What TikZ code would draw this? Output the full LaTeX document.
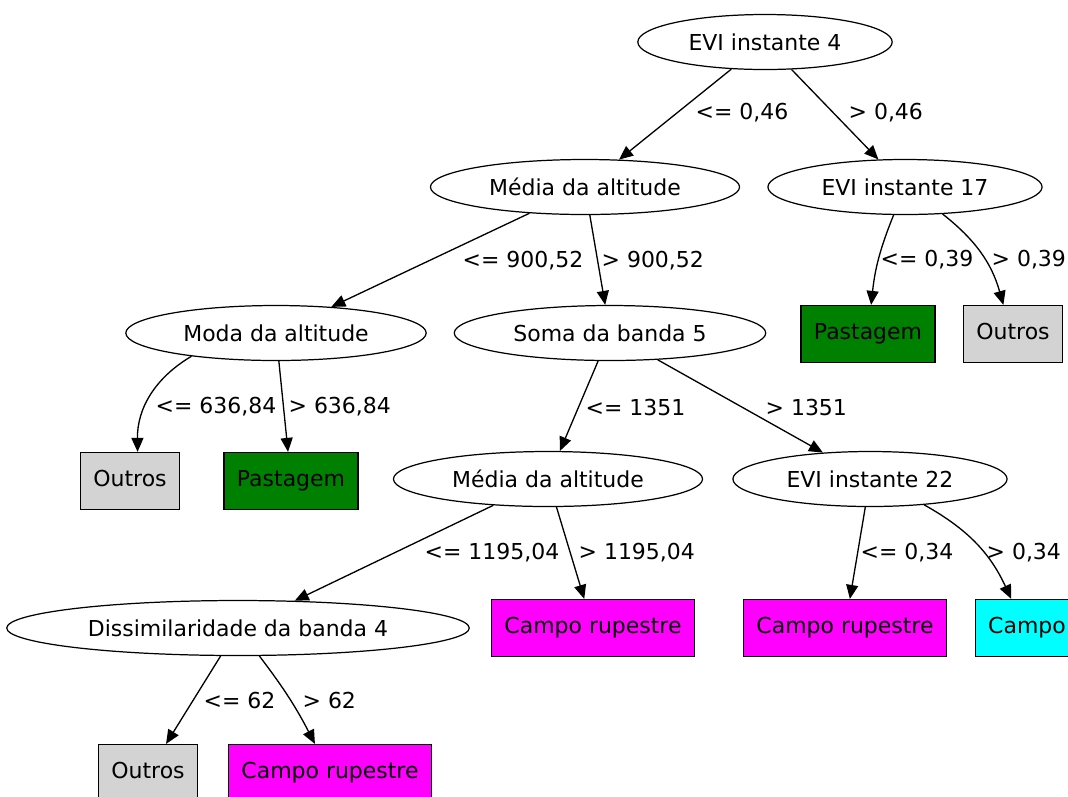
\documentclass[tikz,border=0pt]{standalone}
\usepackage{fontspec}
\setmainfont{DejaVu Sans}
\usetikzlibrary{shapes.geometric,arrows.meta}
\definecolor{verde}{HTML}{008000}
\definecolor{cinza}{HTML}{D3D3D3}
\definecolor{rosa}{HTML}{FF00FF}
\definecolor{ciano}{HTML}{00FFFF}

\begin{document}
\begin{tikzpicture}[x=0.02cm, y=-0.02cm, >={Triangle[length=0.28cm,width=0.24cm]},
  teste/.style={draw, ellipse, line width=0.7pt, minimum height=1.1cm, inner xsep=0.27cm, inner ysep=0pt, font=\fontsize{12.5}{15}\selectfont},
  folha/.style={draw, rectangle, line width=0.7pt, minimum height=1.14cm, inner xsep=0.26cm, text height=0.7em, text depth=0.05em, font=\fontsize{12.5}{15}\selectfont},
  rot/.style={anchor=west, inner sep=0pt, font=\fontsize{12.5}{15}\selectfont},
  seta/.style={->, line width=0.75pt}]
\useasboundingbox (0,0) rectangle (1068,796);
\clip (0,0) rectangle (1068,796);

% nivel 0
\node[teste] (evi4) at (765,42) {EVI instante 4};
% nivel 1
\node[teste] (med1) at (585,187) {Média da altitude};
\node[teste] (evi17) at (905,187) {EVI instante 17};
% nivel 2
\node[teste] (moda) at (276,333) {Moda da altitude};
\node[teste] (soma) at (610,333) {Soma da banda 5};
\node[folha, fill=verde] (past2) at (868,334) {Pastagem};
\node[folha, fill=cinza] (outr2) at (1013,334) {Outros};
% nivel 3
\node[folha, fill=cinza] (outr1) at (130,481) {Outros};
\node[folha, fill=verde] (past1) at (291,481) {Pastagem};
\node[teste] (med2) at (548,479) {Média da altitude};
\node[teste] (evi22) at (870,479) {EVI instante 22};
% nivel 4
\node[teste] (diss) at (238,628) {Dissimilaridade da banda 4};
\node[folha, fill=rosa] (camp1) at (593,628) {Campo rupestre};
\node[folha, fill=rosa] (camp2) at (845,628) {Campo rupestre};
\node[folha, fill=ciano] (campo) at (1027,628) {Campo};
% nivel 5
\node[folha, fill=cinza] (outr3) at (148,773) {Outros};
\node[folha, fill=rosa] (camp3) at (330,773) {Campo rupestre};

% arestas
\draw[seta] (evi4) -- (med1) node[rot] (r1) at (695,113) {<= 0,46};
\draw[seta] (evi4) -- (evi17) node[rot] (r2) at (848,113) {> 0,46};
\draw[seta] (med1) -- (moda) node[rot] (r3) at (462,261) {<= 900,52};
\draw[seta] (med1) -- (soma) node[rot] (r4) at (601,261) {> 900,52};
\draw[seta] (evi17) to[bend right=8] (past2) node[rot] (r5) at (880,260) {<= 0,39};
\draw[seta] (evi17) to[bend left=18] (outr2) node[rot] (r6) at (991,260) {> 0,39};
\draw[seta] (moda) to[bend right=30] (outr1) node[rot] (r7) at (155,407) {<= 636,84};
\draw[seta] (moda) -- (past1) node[rot] (r8) at (288,407) {> 636,84};
\draw[seta] (soma) -- (med2) node[rot] (r9) at (585,407) {<= 1351};
\draw[seta] (soma) -- (evi22) node[rot] (r10) at (765,407) {> 1351};
\draw[seta] (med2) -- (diss) node[rot] (r11) at (424,553) {<= 1195,04};
\draw[seta] (med2) -- (camp1) node[rot] (r12) at (578,553) {> 1195,04};
\draw[seta] (evi22) -- (camp2) node[rot] (r13) at (860,553) {<= 0,34};
\draw[seta] (evi22) to[bend left=18] (campo) node[rot] (r14) at (986,553) {> 0,34};
\draw[seta] (diss) -- (outr3) node[rot] (r15) at (203,700) {<= 62};
\draw[seta] (diss) to[bend left=5] (camp3) node[rot] (r16) at (302,700) {> 62};
\end{tikzpicture}
\end{document}
